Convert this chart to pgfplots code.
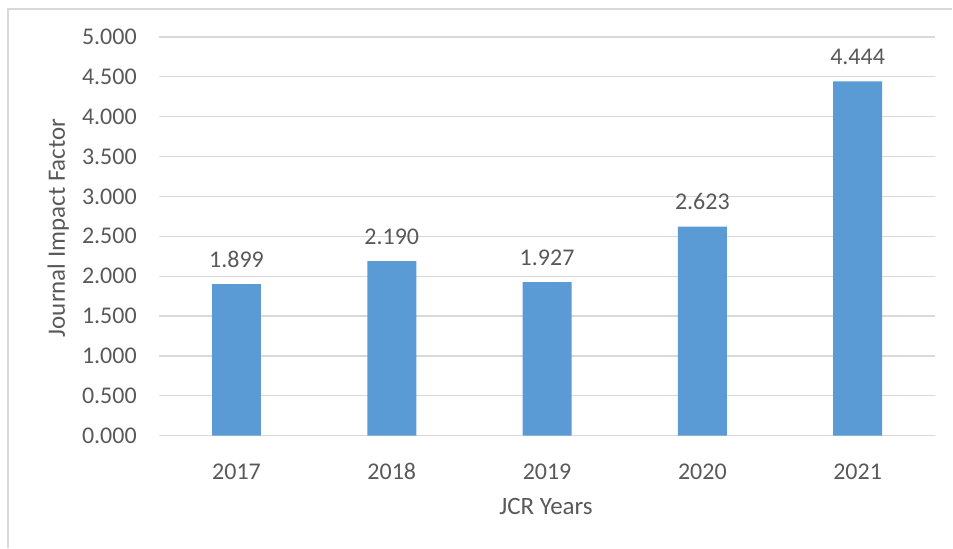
\documentclass[border=0pt]{standalone}
\usepackage{fontspec}
\setmainfont{Carlito}
\usepackage{pgfplots}
\pgfplotsset{compat=1.18}
\definecolor{barblue}{HTML}{5B9BD5}
\definecolor{txtgray}{HTML}{595959}
\definecolor{gridgray}{HTML}{D9D9D9}
\begin{document}
\begin{tikzpicture}[x=1pt,y=1pt]
  % page size and the chart frame
  \path (0,0) rectangle (953,548);
  \draw[gridgray, line width=1.5pt] (8,0) -- (8,539) -- (953,539);

  \begin{axis}[
      at={(159pt,112pt)}, anchor=south west,
      scale only axis,
      width=777pt, height=399pt,
      ybar, bar width=49pt,
      xmin=-0.5, xmax=4.5,
      ymin=0, ymax=5,
      xtick=data,
      xticklabels={2017,2018,2019,2020,2021},
      ytick={0,0.5,...,5},
      ymajorgrids=true,
      grid style={gridgray, line width=1.3pt},
      axis line style={draw=none},
      major tick style={draw=none},
      tick label style={font=\fontsize{24}{28}\selectfont, text=txtgray},
      /pgf/number format/assume math mode=true,
      yticklabel style={/pgf/number format/.cd, fixed, fixed zerofill, precision=3,
        /tikz/.cd, anchor=east, inner sep=0pt, xshift=-22pt},
      xticklabel style={anchor=base, inner sep=0pt, yshift=-40pt},
      scaled y ticks=false,
      nodes near coords,
      nodes near coords style={font=\fontsize{24}{28}\selectfont, text=txtgray,
        anchor=base, inner sep=0pt, yshift=17pt,
        /pgf/number format/.cd, fixed, fixed zerofill, precision=3},
      clip=false,
    ]
    \addplot[fill=barblue, draw=none] coordinates {
      (0,1.899) (1,2.190) (2,1.927) (3,2.623) (4,4.444)
    };
  \end{axis}

  \node[anchor=base, text=txtgray, font=\fontsize{25}{30}\selectfont, inner sep=0pt]
    at (546.5,33) {JCR Years};
  \node[anchor=base, rotate=90, text=txtgray, font=\fontsize{25}{30}\selectfont, inner sep=0pt]
    at (65,320) {Journal Impact Factor};
\end{tikzpicture}
\end{document}
